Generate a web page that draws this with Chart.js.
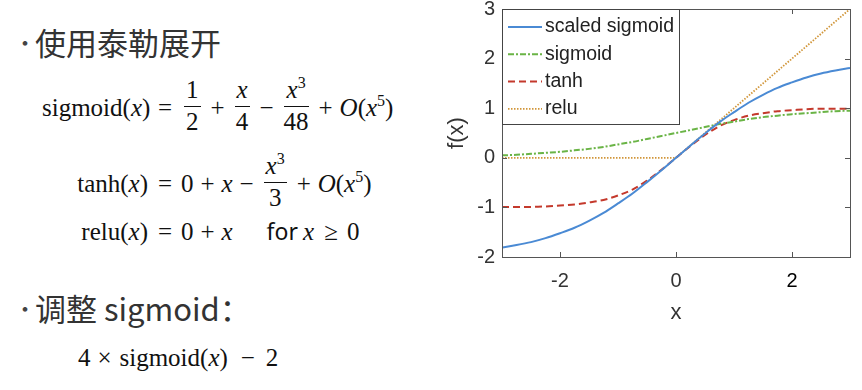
<!DOCTYPE html>
<html lang="zh">
  <head>
    <meta charset="UTF-8" />
    <title>Taylor expansion of sigmoid</title>
    <script src="https://cdn.jsdelivr.net/npm/chart.js"></script>
    <style>
      body {
        margin: 0;
        width: 862px;
        height: 390px;
        background: #fff;
        position: relative;
        overflow: hidden;
        color: #333;
      }
      .bullet {
        position: absolute;
        font-family: "Noto Sans CJK SC", "Noto Sans", sans-serif;
        font-size: 31px;
        line-height: 1;
        color: #333;
        white-space: nowrap;
      }
      .bullet .dot {
        display: inline-block;
        width: 21px;
        font-size: 22px;
        color: #444;
        vertical-align: 4px;
      }
      .eq {
        position: absolute;
        font-family: "Liberation Serif", "Times New Roman", serif;
        font-size: 25px;
        line-height: 30px;
        color: #111;
        white-space: nowrap;
      }
      .eq i {
        font-style: italic;
      }
      .lhs {
        display: inline-block;
        width: 106px;
        text-align: right;
      }
      .op,
      .rel {
        display: inline-block;
        text-align: center;
      }
      .op {
        width: 18px;
        margin: 0 5px;
      }
      .rel {
        width: 20px;
        margin: 0 6px 0 7px;
      }
      .frac {
        display: inline-block;
        text-align: center;
        vertical-align: middle;
        margin: 0 3px;
        line-height: 1.2;
        position: relative;
        top: -4px;
      }
      .frac > span {
        display: block;
      }
      .frac > span:first-child {
        border-bottom: 1.3px solid #111;
        padding: 0 2px 1px;
      }
      .sans {
        font-family: "Noto Sans", "Liberation Sans", sans-serif;
        font-size: 23px;
        margin-left: 34px;
        margin-right: 5px;
      }
      .sup {
        font-size: 16px;
        position: relative;
        top: -10px;
      }
      .chart-box {
        position: absolute;
        left: 440px;
        top: 0;
        width: 422px;
        height: 330px;
      }
    </style>
  </head>
  <body>
    <div class="bullet" style="left: 14px; top: 26px"><span class="dot">•</span>使用泰勒展开</div>
    <div class="eq" style="left: 42px; top: 79px"><span class="lhs">sigmoid(<i>x</i>)</span><span class="rel">=</span><span class="frac"><span>1</span><span>2</span></span><span class="op">+</span><span class="frac"><span><i>x</i></span><span>4</span></span><span class="op">−</span><span class="frac"><span><i>x</i><span class="sup">3</span></span><span>48</span></span><span class="op">+</span><i>O</i>(<i>x</i><span class="sup">5</span>)</div>
    <div class="eq" style="left: 42px; top: 155px"><span class="lhs">tanh(<i>x</i>)</span><span class="rel">=</span>0<span class="op">+</span><i>x</i><span class="op">−</span><span class="frac"><span><i>x</i><span class="sup">3</span></span><span>3</span></span><span class="op">+</span><i>O</i>(<i>x</i><span class="sup">5</span>)</div>
    <div class="eq" style="left: 42px; top: 216px"><span class="lhs">relu(<i>x</i>)</span><span class="rel">=</span>0<span class="op">+</span><i>x</i><span class="sans">for</span><i>x</i><span class="rel">≥</span>0</div>
    <div class="bullet" style="left: 14px; top: 292px"><span class="dot">•</span>调整 sigmoid：</div>
    <div class="eq" style="left: 78px; top: 343px">4<span class="op" style="margin: 0 6px 0 5px">×</span>sigmoid(<i>x</i>)<span class="op" style="margin: 0 9px 0 11px">−</span>2</div>

    <div class="chart-box"><canvas id="chart"></canvas></div>

    <script>
      const xValues = [
        -3, -2.75, -2.5, -2.25, -2, -1.75, -1.5, -1.25, -1, -0.75, -0.5, -0.25, 0,
        0.25, 0.5, 0.75, 1, 1.25, 1.5, 1.75, 2, 2.25, 2.5, 2.75, 3,
      ];
      const scaledSigmoid = [
        -1.81, -1.76, -1.7, -1.62, -1.52, -1.41, -1.27, -1.11, -0.92, -0.72, -0.49, -0.25, 0,
        0.25, 0.49, 0.72, 0.92, 1.11, 1.27, 1.41, 1.52, 1.62, 1.7, 1.76, 1.81,
      ];
      const sigmoid = [
        0.05, 0.06, 0.08, 0.1, 0.12, 0.15, 0.18, 0.22, 0.27, 0.32, 0.38, 0.44, 0.5,
        0.56, 0.62, 0.68, 0.73, 0.78, 0.82, 0.85, 0.88, 0.9, 0.92, 0.94, 0.95,
      ];
      const tanh = [
        -0.99, -0.99, -0.99, -0.98, -0.96, -0.94, -0.9, -0.85, -0.76, -0.64, -0.46, -0.24, 0,
        0.24, 0.46, 0.64, 0.76, 0.85, 0.9, 0.94, 0.96, 0.98, 0.99, 0.99, 0.99,
      ];
      const relu = [
        0, 0, 0, 0, 0, 0, 0, 0, 0, 0, 0, 0, 0,
        0.25, 0.5, 0.75, 1, 1.25, 1.5, 1.75, 2, 2.25, 2.5, 2.75, 3,
      ];
      const xTicks = [-2, 0, 2];
      const yTicks = [-2, -1, 0, 1, 2, 3];

      const points = (ys) => xValues.map((x, i) => ({ x: x, y: ys[i] }));
      const labelFont = "'Liberation Sans', Arial, sans-serif";

      // box round the plot, small inward ticks on all four sides, legend
      const frame = {
        id: "frame",
        afterDatasetsDraw(chart) {
          const { ctx, chartArea: a, scales } = chart;
          ctx.save();
          ctx.strokeStyle = "#555";
          ctx.lineWidth = 1;
          ctx.setLineDash([]);
          ctx.strokeRect(a.left + 0.5, a.top + 0.5, a.right - a.left, a.bottom - a.top);
          ctx.beginPath();
          xTicks.forEach((v) => {
            const px = Math.round(scales.x.getPixelForValue(v)) + 0.5;
            ctx.moveTo(px, a.bottom);
            ctx.lineTo(px, a.bottom - 5);
            ctx.moveTo(px, a.top);
            ctx.lineTo(px, a.top + 5);
          });
          yTicks.forEach((v) => {
            const py = Math.round(scales.y.getPixelForValue(v)) + 0.5;
            ctx.moveTo(a.left, py);
            ctx.lineTo(a.left + 5, py);
            ctx.moveTo(a.right, py);
            ctx.lineTo(a.right - 5, py);
          });
          ctx.stroke();

          const lw = 177,
            lh = 115;
          ctx.fillStyle = "#fff";
          ctx.fillRect(a.left, a.top, lw, lh);
          ctx.strokeStyle = "#444";
          ctx.strokeRect(a.left + 0.5, a.top + 0.5, lw, lh);
          ctx.font = "19.5px " + labelFont;
          ctx.textBaseline = "middle";
          chart.data.datasets.forEach((ds, i) => {
            const y = a.top + 18 + i * 27.3;
            ctx.strokeStyle = ds.borderColor;
            ctx.lineWidth = ds.borderWidth;
            ctx.setLineDash(ds.borderDash || []);
            ctx.beginPath();
            ctx.moveTo(a.left + 6, y);
            ctx.lineTo(a.left + 40, y);
            ctx.stroke();
            ctx.fillStyle = "#222";
            ctx.fillText(ds.label, a.left + 43, y);
          });
          ctx.restore();
        },
      };

      new Chart(document.getElementById("chart"), {
        type: "line",
        data: {
          datasets: [
            {
              label: "scaled sigmoid",
              data: points(scaledSigmoid),
              borderColor: "#4a8ad4",
              borderWidth: 2,
              cubicInterpolationMode: "monotone",
            },
            {
              label: "sigmoid",
              data: points(sigmoid),
              borderColor: "#6ab446",
              borderWidth: 2,
              borderDash: [6, 2, 2, 2],
              cubicInterpolationMode: "monotone",
            },
            {
              label: "tanh",
              data: points(tanh),
              borderColor: "#c4392c",
              borderWidth: 2,
              borderDash: [7, 4],
              cubicInterpolationMode: "monotone",
            },
            {
              label: "relu",
              data: points(relu),
              borderColor: "#d1963a",
              borderWidth: 1.8,
              borderDash: [1.5, 1.5],
              tension: 0,
            },
          ],
        },
        options: {
          responsive: true,
          maintainAspectRatio: false,
          animation: false,
          elements: { point: { radius: 0 } },
          layout: { padding: { top: 9, right: 12, left: 0, bottom: 0 } },
          plugins: {
            legend: { display: false },
            tooltip: { enabled: false },
          },
          scales: {
            x: {
              type: "linear",
              min: -3,
              max: 3,
              grid: { display: false, drawTicks: false },
              border: { display: false },
              afterBuildTicks: (s) => {
                s.ticks = xTicks.map((v) => ({ value: v }));
              },
              afterFit: (s) => {
                s.height = 73;
              },
              ticks: {
                // the "2" on the original was pasted in pure black
                color: (c) => (c.tick && c.tick.value === 2 ? "#000" : "#333"),
                padding: 12,
                font: { family: labelFont, size: 20 },
              },
              title: {
                display: true,
                text: "x",
                color: "#333",
                padding: { top: 6 },
                font: { family: labelFont, size: 22 },
              },
            },
            y: {
              min: -2,
              max: 3,
              grid: { display: false, drawTicks: false },
              border: { display: false },
              afterBuildTicks: (s) => {
                s.ticks = yTicks.map((v) => ({ value: v }));
              },
              afterFit: (s) => {
                s.width = 62;
                s.paddingTop = 0;
                s.paddingBottom = 0;
              },
              ticks: {
                color: "#333",
                padding: 7,
                font: { family: labelFont, size: 20 },
              },
              title: {
                display: true,
                text: "f(x)",
                color: "#333",
                padding: { top: 4, bottom: 0 },
                font: { family: labelFont, size: 22 },
              },
            },
          },
        },
        plugins: [frame],
      });
    </script>
  </body>
</html>
